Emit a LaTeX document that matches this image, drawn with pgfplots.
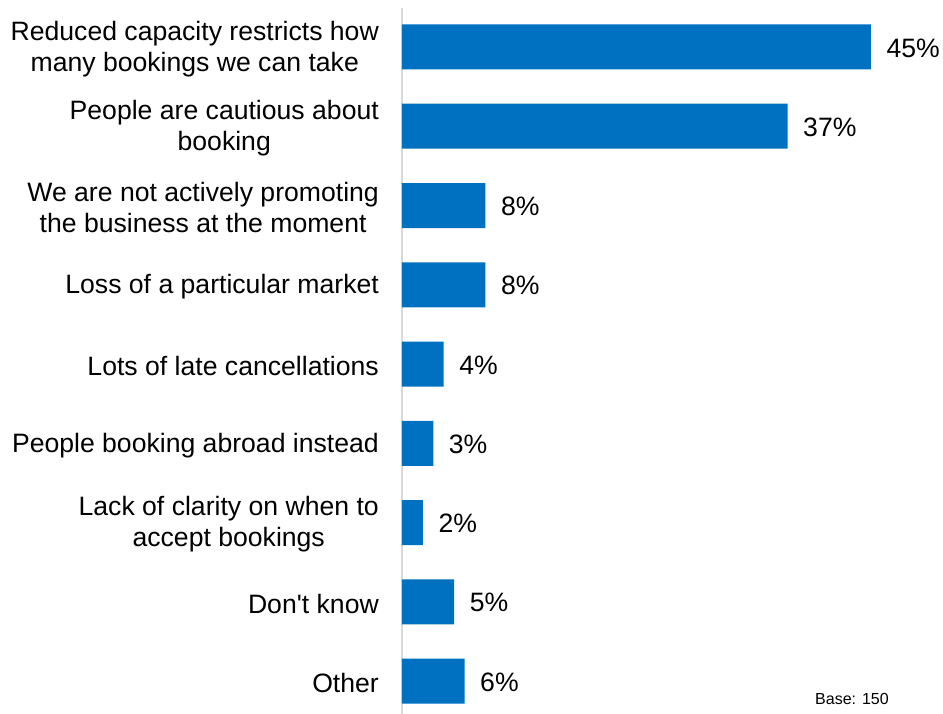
\documentclass[border=0pt]{standalone}
\usepackage{pgfplots}
\pgfplotsset{compat=1.18}
\usepackage{fontspec}
\setmainfont{Liberation Sans}
\newfontfamily\plainfont{Liberation Sans}
\definecolor{barblue}{HTML}{0070C0}
\definecolor{axgray}{HTML}{D9D9D9}
\begin{document}
\begin{tikzpicture}
\begin{axis}[
  name=a,
  at={(402pt,0pt)}, anchor=south west,
  scale only axis,
  width=541pt, height=706pt,
  xmin=0, xmax=51.92,
  ymin=-0.492, ymax=8.416,
  y dir=reverse,
  xbar, bar width=45pt,
  hide x axis,
  axis y line*=left,
  y axis line style={draw=axgray, line width=2pt, -},
  ytick={0,1,2,3,4,5,6,7,8},
  yticklabels={{Reduced capacity restricts how\\many bookings we can take},
    {People are cautious about\\booking},
    {We are not actively promoting\\the business at the moment},
    {Loss of a particular market},
    {Lots of late cancellations},
    {People booking abroad instead},
    {Lack of clarity on when to\\accept bookings},
    {{\plainfont Don't know}},
    {Other}},
  major tick length=0pt,
  ytick style={draw=none},
  yticklabel style={align=center, font=\fontsize{26.6}{31}\selectfont, inner sep=0pt, xshift=-23pt, yshift=-2pt},
  /pgf/number format/assume math mode=true,
  nodes near coords={\pgfmathprintnumber{\pgfplotspointmeta}\%},
  nodes near coords style={anchor=west, inner sep=0pt, xshift=15.5pt, yshift=-1pt, font=\fontsize{26.6}{31}\selectfont},
  clip=false,
]
\addplot[fill=barblue, draw=none] coordinates {
(45,0) (37,1) (8,2) (8,3) (4,4) (3,5) (2,6) (5,7) (6,8)};
\end{axis}
\node[anchor=base west, inner sep=0pt, font=\fontsize{16}{19}\selectfont] at (815pt,9pt) {Base: 150};
\pgfresetboundingbox
\path (0pt,0pt) rectangle (943pt,714pt);
\end{tikzpicture}
\end{document}
